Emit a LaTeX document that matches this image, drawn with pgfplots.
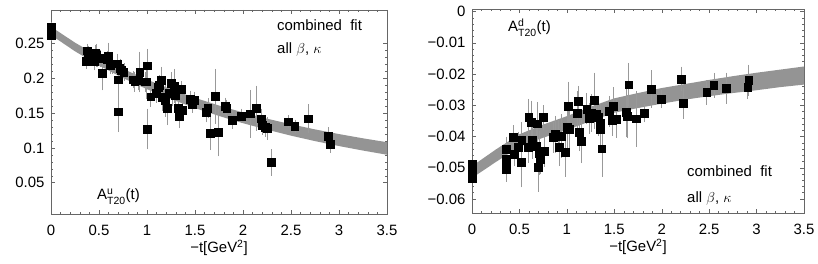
\documentclass[border=0pt]{standalone}
\usepackage{amsmath}
\usepackage{pgfplots}
\pgfplotsset{compat=1.18}
\usepackage{pgfplotstable}
\usepackage{fontspec}
\setmainfont{Liberation Sans}
\newcommand{\fs}{\fontsize{15}{15}\selectfont}

\pgfplotstableread{
t v e
0 0.274 0.003
0 0.269 0.003
0 0.265 0.003
0 0.261 0.003
0.363 0.224 0.006
0.377 0.2395 0.006
0.387 0.236 0.006
0.446 0.2237 0.008
0.457 0.236 0.008
0.474 0.233 0.012
0.484 0.228 0.008
0.508 0.2285 0.008
0.533 0.207 0.02
0.585 0.227 0.008
0.595 0.232 0.015
0.619 0.219 0.008
0.64 0.221 0.01
0.692 0.221 0.01
0.699 0.198 0.012
0.699 0.152 0.025
0.716 0.214 0.01
0.733 0.212 0.01
0.758 0.209 0.008
0.854 0.198 0.008
0.872 0.195 0.01
0.906 0.197 0.01
0.924 0.209 0.025
0.982 0.195 0.01
0.993 0.195 0.02
1.003 0.127 0.025
1.006 0.218 0.02
1.038 0.1734 0.01
1.096 0.179 0.01
1.114 0.187 0.012
1.131 0.190 0.01
1.148 0.197 0.015
1.155 0.1725 0.015
1.19 0.169 0.02
1.21 0.157 0.02
1.228 0.178 0.01
1.252 0.1926 0.012
1.263 0.179 0.015
1.287 0.189 0.02
1.297 0.176 0.012
1.321 0.157 0.012
1.332 0.1447 0.012
1.356 0.184 0.008
1.366 0.154 0.008
1.449 0.17 0.008
1.470 0.163 0.008
1.494 0.168 0.008
1.615 0.151 0.01
1.633 0.157 0.01
1.657 0.121 0.02
1.712 0.174 0.035
1.743 0.122 0.03
1.813 0.160 0.008
1.83 0.157 0.008
1.885 0.140 0.008
1.982 0.146 0.006
2.072 0.149 0.03
2.141 0.157 0.028
2.186 0.142 0.01
2.203 0.133 0.01
2.228 0.130 0.01
2.255 0.128 0.012
2.29 0.079 0.015
2.47 0.1376 0.005
2.539 0.1313 0.005
2.677 0.142 0.016
2.888 0.117 0.008
2.912 0.1055 0.008
}\datau

\pgfplotstableread{
t v e
0 -0.049 0.0005
0 -0.0505 0.0005
0 -0.052 0.0005
0 -0.0533 0.0005
0.364 -0.044 0.003
0.364 -0.0472 0.003
0.364 -0.0483 0.003
0.364 -0.0506 0.003
0.435 -0.0403 0.003
0.449 -0.0456 0.003
0.484 -0.0435 0.004
0.52 -0.0483 0.007
0.523 -0.0413 0.005
0.590 -0.0435 0.004
0.597 -0.0339 0.005
0.626 -0.0355 0.006
0.633 -0.0412 0.005
0.682 -0.043 0.005
0.689 -0.0359 0.006
0.696 -0.0498 0.007
0.707 -0.0453 0.006
0.718 -0.0472 0.004
0.753 -0.0339 0.003
0.760 -0.0448 0.004
0.859 -0.0403 0.004
0.873 -0.0394 0.005
0.908 -0.0398 0.004
0.919 -0.0435 0.005
0.937 -0.0398 0.006
0.979 -0.045 0.007
1.0 -0.0371 0.007
1.015 -0.0304 0.007
1.029 -0.0376 0.006
1.113 -0.0325 0.006
1.12 -0.0288 0.004
1.131 -0.0387 0.005
1.149 -0.0416 0.006
1.209 -0.0312 0.004
1.237 -0.0341 0.004
1.262 -0.0325 0.005
1.29 -0.0285 0.008
1.308 -0.033 0.005
1.333 -0.0338 0.005
1.354 -0.0357 0.005
1.354 -0.0376 0.005
1.368 -0.0439 0.008
1.449 -0.032 0.004
1.474 -0.0348 0.004
1.492 -0.0302 0.005
1.52 -0.0344 0.005
1.626 -0.0323 0.007
1.637 -0.0336 0.006
1.651 -0.0234 0.006
1.729 -0.0343 0.008
1.813 -0.0325 0.002
1.891 -0.0248 0.005
1.997 -0.028 0.002
2.202 -0.0216 0.003
2.227 -0.0293 0.004
2.474 -0.0259 0.003
2.549 -0.0236 0.003
2.679 -0.0245 0.004
2.906 -0.0242 0.003
2.916 -0.022 0.004
}\datad

\pgfplotsset{
  mystyle/.style={
    scale only axis, clip=false,
    scaled ticks=false,
    xmin=0, xmax=3.5,
    xtick={0,0.5,1,1.5,2,2.5,3,3.5},
    xticklabels={0,0.5,1,1.5,2,2.5,3,3.5},
    minor x tick num=4, minor y tick num=4,
    tick align=inside,
    major tick length=4bp, minor tick length=2bp,
    axis line style={black!60, line width=0.5pt},
    every tick/.style={black!60, line width=0.4pt},
    tick label style={font=\fs},
    xticklabel style={anchor=center, yshift=-16bp},
    yticklabel style={xshift=-3bp},
    xlabel={−t[GeV\textsuperscript{2}]},
    xlabel style={at={(axis description cs:0.5,0)}, anchor=center, yshift=-34bp, font=\fs},
  },
  band/.style={fill=black!42, draw=none, forget plot},
  pts/.style={only marks, mark=square*, mark size=3.9bp, black,
    error bars/.cd, y dir=both, y explicit,
    error bar style={black!40, line width=0.45pt},
    error mark options={black!40, mark size=3bp, line width=0.45pt}},
}

\begin{document}
\begin{tikzpicture}
\useasboundingbox (0,0) rectangle (818bp,264bp);
\begin{axis}[mystyle, at={(51bp,50bp)}, anchor=south west,
  width=336bp, height=204bp, ymin=0.005, ymax=0.298,
  ytick={0.05,0.1,0.15,0.2,0.25}, yticklabels={0.05,0.1,0.15,0.2,0.25}]
\addplot[band] coordinates {
(0,0.274) (0.25,0.2511) (0.5,0.2311) (0.75,0.2135) (1,0.198) (1.25,0.1842)
(1.5,0.1718) (1.75,0.1608) (2,0.1508) (2.25,0.1419) (2.5,0.1339) (2.75,0.1265)
(3,0.1198) (3.25,0.1137) (3.5,0.1081)
(3.5,0.0901) (3.25,0.0961) (3,0.1026) (2.75,0.1097) (2.5,0.1175) (2.25,0.1261)
(2,0.1354) (1.75,0.1458) (1.5,0.1572) (1.25,0.1700) (1,0.1842) (0.75,0.2003)
(0.5,0.2183) (0.25,0.2387) (0,0.262)} -- cycle;
\addplot[pts] table[x=t, y=v, y error=e] {\datau};
\end{axis}
\begin{axis}[mystyle, at={(472bp,51bp)}, anchor=south west,
  width=332bp, height=204bp, ymin=-0.0645, ymax=0.0008,
  ytick={-0.06,-0.05,-0.04,-0.03,-0.02,-0.01,0},
  yticklabels={−0.06,−0.05,−0.04,−0.03,−0.02,−0.01,0}]
\addplot[band] coordinates {
(0,-0.0495) (0.25,-0.0442) (0.5,-0.0393) (0.75,-0.0362) (1,-0.0335) (1.25,-0.0305)
(1.5,-0.0278) (1.75,-0.0261) (2,-0.0245) (2.25,-0.0232) (2.5,-0.0219) (2.75,-0.0207)
(3,-0.0196) (3.25,-0.0186) (3.5,-0.0176)
(3.5,-0.0234) (3.25,-0.0242) (3,-0.0252) (2.75,-0.0261) (2.5,-0.0271) (2.25,-0.0282)
(2,-0.0295) (1.75,-0.0309) (1.5,-0.0324) (1.25,-0.0351) (1,-0.0379) (0.75,-0.0404)
(0.5,-0.0433) (0.25,-0.0482) (0,-0.0533)} -- cycle;
\addplot[pts] table[x=t, y=v, y error=e] {\datad};
\end{axis}
\begin{scope}[every node/.style={anchor=base west, inner sep=0pt, font=\fs}]
\node at (277bp,233bp) {combined\ \ fit};
\node at (277bp,210bp) {all $\beta$, $\kappa$};
\node at (97bp,64bp) {A$^{\text{u}}_{\text{T20}}$(t)};
\node at (508bp,232bp) {A$^{\text{d}}_{\text{T20}}$(t)};
\node at (687bp,87bp) {combined\ \ fit};
\node at (687bp,61bp) {all $\beta$, $\kappa$};
\end{scope}
\end{tikzpicture}
\end{document}
